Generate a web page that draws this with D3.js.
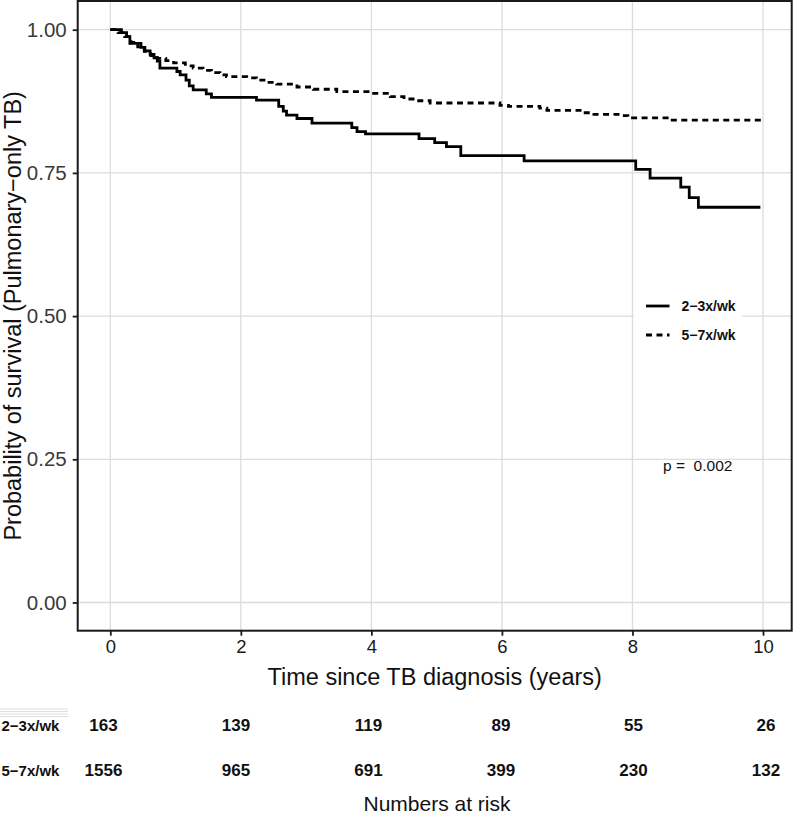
<!DOCTYPE html>
<html><head><meta charset="utf-8">
<script src="https://cdn.jsdelivr.net/npm/d3@7"></script>
<style>
html,body{margin:0;padding:0;background:#fff;}
svg{display:block;}
text{font-family:"Liberation Sans",Arial,Helvetica,sans-serif;white-space:pre;}
</style></head>
<body>
<svg id="chart" width="796" height="819"></svg>
<script>
// ---- data ----
const groups = ["2\u22123x/wk", "5\u22127x/wk"];
// Kaplan-Meier step curves: drop times (years) and survival after drop
const time23 = [0,0.17,0.25,0.30,0.47,0.53,0.61,0.67,0.72,0.76,1.02,1.07,1.16,1.21,1.27,1.47,1.55,2.24,2.58,2.65,2.70,2.86,3.09,3.70,3.78,3.91,4.73,4.97,5.15,5.37,6.34,8.05,8.27,8.74,8.87,9.01,9.96];
const surv23 = [1.000,0.995,0.988,0.976,0.969,0.963,0.957,0.951,0.945,0.933,0.927,0.921,0.912,0.902,0.895,0.888,0.882,0.877,0.866,0.858,0.851,0.845,0.837,0.829,0.822,0.818,0.810,0.803,0.796,0.780,0.771,0.756,0.741,0.725,0.707,0.690,0.690];
const time57 = [0,0.12,0.22,0.32,0.42,0.52,0.62,0.72,0.85,0.97,1.15,1.27,1.42,1.55,1.68,1.78,2.09,2.24,2.40,2.55,2.86,3.11,3.47,3.98,4.29,4.50,4.69,4.90,5.97,6.10,6.58,6.69,7.24,7.35,7.81,7.93,8.57,9.98];
const surv57 = [1.000,0.995,0.988,0.978,0.970,0.962,0.955,0.950,0.946,0.942,0.937,0.933,0.929,0.925,0.921,0.918,0.916,0.912,0.908,0.905,0.900,0.896,0.892,0.889,0.883,0.879,0.876,0.872,0.868,0.866,0.863,0.859,0.855,0.852,0.850,0.846,0.842,0.842];
const xTicks = [0,2,4,6,8,10];
const yTicks = [0,0.25,0.5,0.75,1];
const yTickLabels = ["0.00","0.25","0.50","0.75","1.00"];
const riskTimes = [0,2,4,6,8,10];
const risk23 = [163,139,119,89,55,26];
const risk57 = [1556,965,691,399,230,132];
const pText = "p =  0.002";

// ---- layout ----
const svg = d3.select("#chart");
const P = {l:77.7, t:1, r:791.7, b:630.7};
const x = d3.scaleLinear().domain([0,10]).range([110.3,763]);
const y = d3.scaleLinear().domain([0,1]).range([602.5,29.7]);
const xr = d3.scaleLinear().domain([0,10]).range([103.5,766]);
const grid = "#dcdcdc";

// grid
svg.append("g").selectAll("line").data(xTicks).join("line")
  .attr("x1",d=>x(d)).attr("x2",d=>x(d)).attr("y1",P.t).attr("y2",P.b)
  .attr("stroke",grid).attr("stroke-width",1.3);
svg.append("g").selectAll("line").data(yTicks).join("line")
  .attr("x1",P.l).attr("x2",P.r).attr("y1",d=>y(d)).attr("y2",d=>y(d))
  .attr("stroke",grid).attr("stroke-width",1.3);

// curves
const line = d3.line().curve(d3.curveStepAfter).x(d=>x(d[0])).y(d=>y(d[1]));
const d23 = time23.map((t,i)=>[t,surv23[i]]);
const d57 = time57.map((t,i)=>[t,surv57[i]]);
svg.append("path").datum(d57).attr("d",line).attr("fill","none")
  .attr("stroke","#000").attr("stroke-width",2.8).attr("stroke-dasharray","6,4.5");
svg.append("path").datum(d23).attr("d",line).attr("fill","none")
  .attr("stroke","#000").attr("stroke-width",2.8);

// legend
svg.append("rect").attr("x",634).attr("y",290).attr("width",108).attr("height",62).attr("fill","#fff");
const lg = svg.append("g");
[0,1].forEach(i=>{
  const yy = 306 + i*29;
  lg.append("line").attr("x1",646).attr("x2",669.5).attr("y1",yy).attr("y2",yy)
    .attr("stroke","#000").attr("stroke-width",2.8)
    .attr("stroke-dasharray", i===1 ? "6,4.5" : null);
  lg.append("text").attr("x",681.5).attr("y",yy+5).attr("font-size",14)
    .attr("font-weight","bold").attr("fill","#111").text(groups[i]);
});

// p-value
svg.append("text").attr("x",663).attr("y",470.5).attr("font-size",15.5).attr("fill","#111").text(pText);

// panel border
svg.append("rect").attr("x",P.l).attr("y",P.t).attr("width",P.r-P.l).attr("height",P.b-P.t)
  .attr("fill","none").attr("stroke","#1a1a1a").attr("stroke-width",2);

// axes
const xAxis = d3.axisBottom(x).tickValues(xTicks).tickSize(5).tickPadding(4).tickFormat(d3.format("d"));
const gx = svg.append("g").attr("transform",`translate(0,${P.b})`).call(xAxis);
gx.select(".domain").remove();
gx.selectAll("line").attr("stroke","#1a1a1a").attr("stroke-width",1.8);
gx.selectAll("text").attr("font-size",18.5).attr("fill","#1a1a1a").attr("font-family","Liberation Sans, Arial, sans-serif");

const yAxis = d3.axisLeft(y).tickValues(yTicks).tickSize(5).tickPadding(6).tickFormat((d,i)=>yTickLabels[i]);
const gy = svg.append("g").attr("transform",`translate(${P.l},0)`).call(yAxis);
gy.select(".domain").remove();
gy.selectAll("line").attr("stroke","#1a1a1a").attr("stroke-width",1.8);
gy.selectAll("text").attr("font-size",20.5).attr("fill","#3a3a3a").attr("font-family","Liberation Sans, Arial, sans-serif");

// axis titles
svg.append("text").attr("x",(P.l+P.r)/2).attr("y",685).attr("text-anchor","middle")
  .attr("font-size",23.5).attr("fill","#111").text("Time since TB diagnosis (years)");
svg.append("text").attr("transform",`translate(21,${(P.t+P.b)/2}) rotate(-90)`).attr("text-anchor","middle")
  .attr("font-size",23.5).attr("fill","#111").text("Probability of survival (Pulmonary\u2212only TB)");

// risk table
[0,1,2,3].forEach(i=>{
  svg.append("line").attr("x1",0).attr("x2",68).attr("y1",709+i*2.5).attr("y2",709+i*2.5)
    .attr("stroke","#d6d6d6").attr("stroke-width",0.8);
});
[risk23,risk57].forEach((arr,gi)=>{
  const yy = 725 + gi*45;
  svg.append("text").attr("x",1.5).attr("y",yy+5.5).attr("font-size",15).attr("font-weight","bold")
    .attr("fill","#111").text(groups[gi]);
  svg.append("g").selectAll("text").data(arr).join("text")
    .attr("x",(d,i)=>xr(riskTimes[i])).attr("y",yy+6).attr("text-anchor","middle")
    .attr("font-size",17).attr("font-weight","bold").attr("fill","#111").text(d=>d);
});
svg.append("text").attr("x",437).attr("y",811).attr("text-anchor","middle")
  .attr("font-size",21).attr("fill","#111").text("Numbers at risk");
</script>
</body></html>
